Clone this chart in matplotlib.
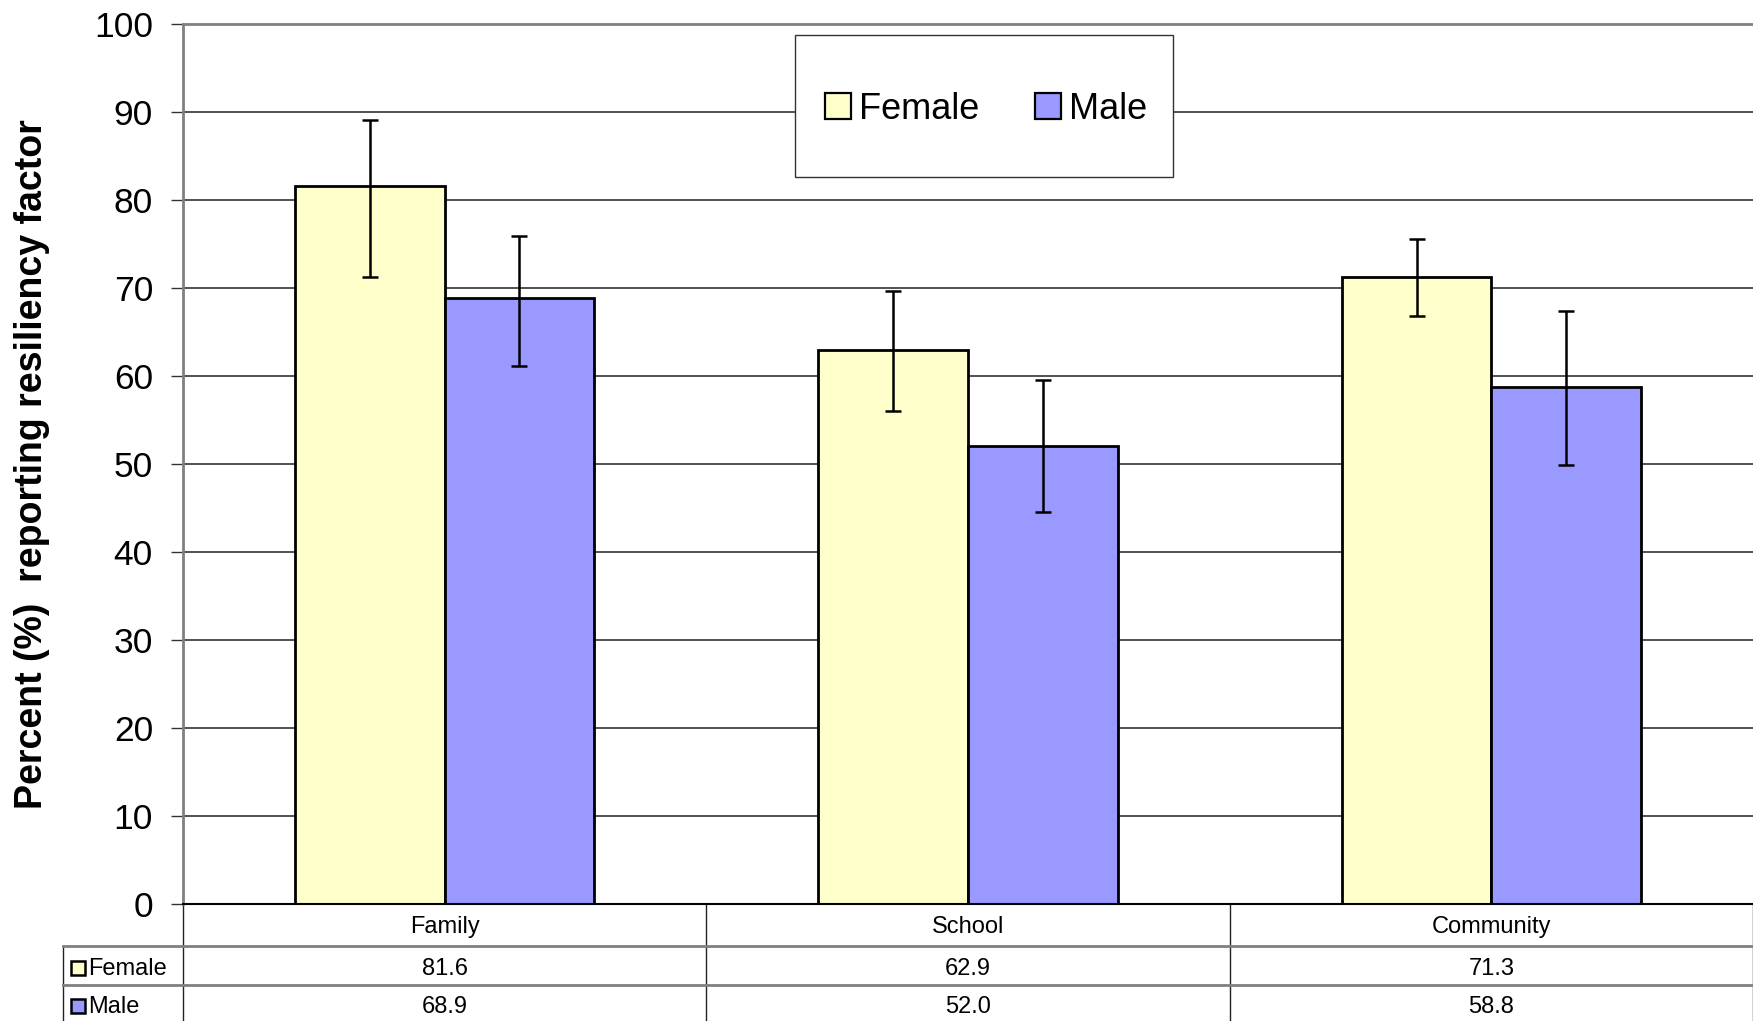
import matplotlib
matplotlib.use("Agg")
import matplotlib.pyplot as plt
from matplotlib.patches import Rectangle
import numpy as np

categories = ["Family", "School", "Community"]
female = [81.6, 62.9, 71.3]
male = [68.9, 52.0, 58.8]
# error bar ends (lower, upper)
female_lo = [71.2, 56.0, 66.8]
female_hi = [89.1, 69.7, 75.6]
male_lo = [61.1, 44.6, 49.9]
male_hi = [75.9, 59.5, 67.4]
yticks = [0, 10, 20, 30, 40, 50, 60, 70, 80, 90, 100]

FEMALE_C = "#FFFFCC"
MALE_C = "#9999FF"

plt.rcParams['font.family'] = ['Liberation Sans', 'DejaVu Sans']
TFS = 17  # table font size

W, H = 1753, 1021
fig = plt.figure(figsize=(W / 100, H / 100), dpi=100)
ax = fig.add_axes([183 / W, 1 - 904 / H, 1570 / W, 880 / H])

x = np.arange(len(categories))
bw = 1 / 3.5
female = np.array(female)
male = np.array(male)
f_err = [female - np.array(female_lo), np.array(female_hi) - female]
m_err = [male - np.array(male_lo), np.array(male_hi) - male]

ebkw = dict(ecolor="black", elinewidth=1.8, capsize=6, capthick=1.8)
ax.bar(x - bw / 2, female, bw, color=FEMALE_C, edgecolor="black", linewidth=2,
       yerr=f_err, error_kw=ebkw, label="Female", zorder=2)
ax.bar(x + bw / 2, male, bw, color=MALE_C, edgecolor="black", linewidth=2,
       yerr=m_err, error_kw=ebkw, label="Male", zorder=2)

ax.set_xlim(-0.5, len(categories) - 0.5)
ax.set_ylim(0, 100)
ax.set_yticks(yticks)
ax.set_xticks([])
ax.tick_params(axis="y", labelsize=25.5, length=8.6, width=1, color="#333333", pad=13)
ax.yaxis.grid(True, color="#222222", linewidth=1.1)
ax.set_axisbelow(True)

for side in ["top", "left"]:
    ax.spines[side].set_color("#808080")
    ax.spines[side].set_linewidth(2)
ax.spines["bottom"].set_color("black")
ax.spines["bottom"].set_linewidth(1.5)
ax.spines["right"].set_visible(False)

ax.set_ylabel("Percent (%)  reporting resiliency factor", fontsize=27, fontweight="bold")
ax.yaxis.set_label_coords(-0.0847, 0.5)

# legend box
ax.add_patch(Rectangle((0.3898, 0.8261), 0.2408, 0.1614, transform=ax.transAxes,
                       facecolor="white", edgecolor="#333333", linewidth=1, zorder=3))
leg = ax.legend(loc="center", bbox_to_anchor=(0.5115, 0.9030), ncol=2, frameon=False,
                fontsize=26, handlelength=0.72, handleheight=0.72, handletextpad=0.22,
                columnspacing=1.55)
leg.set_zorder(5)
for p in leg.get_patches():
    p.set_linewidth(1.6)

# data table under the plot
tr = ax.get_xaxis_transform()
px = 1570 / len(categories)
lab_left = -0.5 + (63 - 183) / px
rows_y = [-42 / 880, -81 / 880]
for xb in np.arange(len(categories) + 1) - 0.5:
    ax.plot([xb, xb], [0, -0.2], transform=tr, color="#222222", lw=1, clip_on=False)
ax.plot([lab_left, lab_left], [rows_y[0], -0.2], transform=tr, color="#222222", lw=1, clip_on=False)
for ry in rows_y:
    ax.plot([lab_left, len(categories) - 0.5], [ry, ry], transform=tr, color="#808080",
            lw=2, clip_on=False)

for i, c in enumerate(categories):
    ax.text(i, -29 / 880, c, transform=tr, ha="center", va="baseline", fontsize=TFS)
    ax.text(i, -71 / 880, f"{female[i]:.1f}", transform=tr, ha="center", va="baseline",
            fontsize=TFS)
    ax.text(i, -109 / 880, f"{male[i]:.1f}", transform=tr, ha="center", va="baseline",
            fontsize=TFS)

for name, col, yb in [("Female", FEMALE_C, -71 / 880), ("Male", MALE_C, -109 / 880)]:
    ax.plot([-0.5 + (78 - 183) / px], [yb + 7 / 880], transform=tr, marker="s",
            markersize=9.5, markerfacecolor=col, markeredgecolor="black",
            markeredgewidth=1.8, clip_on=False)
    ax.text(-0.5 + (88 - 183) / px, yb, name, transform=tr, ha="left", va="baseline",
            fontsize=TFS)

fig.savefig("out.png", dpi=100)
